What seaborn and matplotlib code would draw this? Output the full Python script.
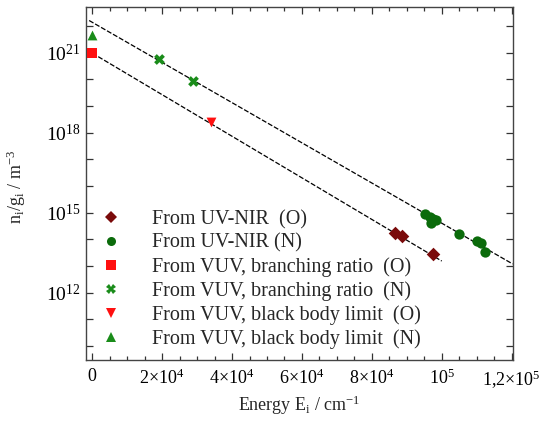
import numpy as np
import pandas as pd
import matplotlib
matplotlib.use("Agg")
import matplotlib.pyplot as plt
from matplotlib.ticker import FixedLocator, FixedFormatter, MultipleLocator, NullFormatter
import seaborn as sns

# Level populations n_i/g_i (m^-3) versus upper-level energy E_i (cm^-1)
uvnir_O_E = [86550, 88530, 97570]
uvnir_O_n = [1.78e14, 1.34e14, 2.9e13]

uvnir_N_E = [95190, 96620, 97570, 96910, 98340, 104830, 110160, 111130, 112450]
uvnir_N_n = [8.7e14, 6.9e14, 5.6e14, 4.2e14, 5.2e14, 1.63e14, 8.7e13, 7.3e13, 3.5e13]

vuv_br_O_E = [0]
vuv_br_O_n = [9.5e20]

vuv_br_N_E = [19080, 28900]
vuv_br_N_n = [5.6e20, 8.7e19]

vuv_bb_O_E = [33870]
vuv_bb_O_n = [2.6e18]

vuv_bb_N_E = [0]
vuv_bb_N_n = [4.6e21]

# Boltzmann fits: n_i/g_i = A * exp(-E_i / (k T))
c2 = 1.4388  # cm K
fit_N_T, fit_N_A = 8300.0, 10 ** 22.135
fit_O_T, fit_O_A = 8020.0, 10 ** 20.98
fit_N_range = [-900, 120300]
fit_O_range = [0, 100000]

labels = [
    "From UV-NIR  (O)",
    "From UV-NIR (N)",
    "From VUV, branching ratio  (O)",
    "From VUV, branching ratio  (N)",
    "From VUV, black body limit  (O)",
    "From VUV, black body limit  (N)",
]

sns.set_theme(style="ticks")
plt.rcParams["font.family"] = ["Liberation Serif", "DejaVu Serif"]
plt.rcParams["mathtext.fontset"] = "custom"
plt.rcParams["mathtext.rm"] = "Liberation Serif"
plt.rcParams["mathtext.it"] = "Liberation Serif:italic"
plt.rcParams["mathtext.bf"] = "Liberation Serif:bold"

fig = plt.figure(figsize=(5.45, 4.23), dpi=100)
ax = fig.add_axes([0.1578, 0.149, 0.7829, 0.8345])

def fit_frame(T, A, rng):
    E = np.array(rng, dtype=float)
    return pd.DataFrame({"E": E, "n": A * np.exp(-c2 * E / T)})

for T, A, rng in [(fit_N_T, fit_N_A, fit_N_range), (fit_O_T, fit_O_A, fit_O_range)]:
    sns.lineplot(data=fit_frame(T, A, rng), x="E", y="n", ax=ax, color="black",
                 lw=0.9, linestyle=(0, (4, 1.5)), zorder=1, legend=False)

groups = [
    (uvnir_O_E, uvnir_O_n, "D", "#7a0a0a", 48),
    (uvnir_N_E, uvnir_N_n, "o", "#0b6b0b", 55),
    (vuv_br_O_E, vuv_br_O_n, "s", "#ff1010", 50),
    (vuv_br_N_E, vuv_br_N_n, "X", "#1a8c1a", 60),
    (vuv_bb_O_E, vuv_bb_O_n, "v", "#ff1010", 50),
    (vuv_bb_N_E, vuv_bb_N_n, "^", "#1a8c1a", 50),
]
handles = []
for (E, n, m, c, s), lab in zip(groups, labels):
    sns.scatterplot(x=E, y=n, ax=ax, marker=m, color=c, s=s, linewidth=0, zorder=3)
    handles.append(plt.Line2D([], [], ls="none", marker=m, color=c, markersize=6.5,
                              markeredgewidth=0, label=lab))

ax.set_yscale("log")
ax.set_xlim(-1800, 120300)
ax.set_ylim(10 ** 9.48, 10 ** 22.71)

# x ticks
ax.xaxis.set_major_locator(FixedLocator([0, 20000, 40000, 60000, 80000, 100000, 120000]))
ax.xaxis.set_major_formatter(FixedFormatter([
    r"$0$", r"$2{\times}10^4$", r"$4{\times}10^4$", r"$6{\times}10^4$",
    r"$8{\times}10^4$", r"$10^5$", r"$1{,}2{\times}10^5$"]))
ax.xaxis.set_minor_locator(MultipleLocator(5000))

# y ticks: labels every three decades, ticks every decade
ax.yaxis.set_major_locator(FixedLocator([1e12, 1e15, 1e18, 1e21]))
ax.yaxis.set_major_formatter(FixedFormatter([r"$10^{12}$", r"$10^{15}$", r"$10^{18}$", r"$10^{21}$"]))
ax.yaxis.set_minor_locator(FixedLocator([10.0 ** k for k in range(9, 23)]))
ax.yaxis.set_minor_formatter(NullFormatter())

ax.tick_params(which="both", direction="in", top=True, right=True, colors="#333333",
               labelcolor="black", width=0.9)
ax.tick_params(axis="x", labelsize=13, pad=6)
ax.tick_params(axis="y", labelsize=14, pad=4)
ax.tick_params(which="major", length=5)
ax.tick_params(which="minor", length=3)
ax.tick_params(axis="y", which="minor", length=5)

for sp in ax.spines.values():
    sp.set_linewidth(1.0)
    sp.set_color("#444444")

ax.set_xlabel(r"Energy E$_\mathrm{i}$ / cm$^{-1}$", fontsize=13)
ax.set_ylabel(r"n$_\mathrm{i}$/g$_\mathrm{i}$ / m$^{-3}$", fontsize=13)
ax.xaxis.set_label_coords(0.5, -0.095)
ax.yaxis.set_label_coords(-0.135, 0.49)

ax.legend(handles=handles, loc="lower left", bbox_to_anchor=(0.003, -0.01), frameon=False,
          fontsize=14.5, handlelength=1.0, handletextpad=1.5, labelspacing=0.22,
          borderpad=0.4, borderaxespad=0.3)

fig.savefig("out.png", dpi=100)
